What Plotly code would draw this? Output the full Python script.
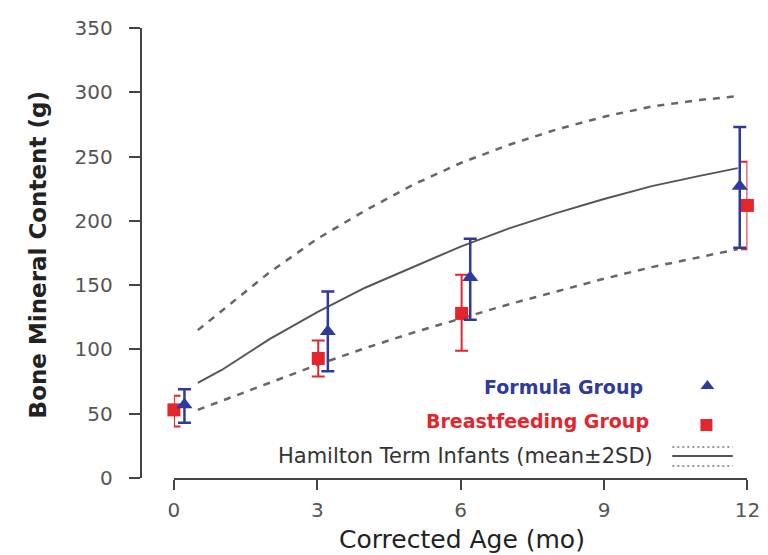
import plotly.graph_objects as go

# ---------------- data ----------------
x_ticks = [0, 3, 6, 9, 12]
y_ticks = [0, 50, 100, 150, 200, 250, 300, 350]

formula_age = [0.22, 3.22, 6.2, 11.84]
formula_mean = [57, 114, 156, 227]
formula_upper = [69, 145, 186, 273]
formula_lower = [43, 83, 123, 179]

breast_age = [0.0, 3.02, 6.02, 12.0]
breast_mean = [53, 93, 128, 212]
breast_upper = [64, 107, 158, 246]
breast_lower = [40, 79, 99, 178]

ham_age = [0.5, 1, 2, 3, 4, 5, 6, 7, 8, 9, 10, 11, 11.8]
ham_mean = [74, 84, 108, 129, 148, 164, 180, 194, 206, 217, 227, 235, 241]
ham_upper = [115, 130, 160, 186, 208, 228, 245, 259, 271, 281, 289, 294, 297]
ham_lower = [53, 60, 74, 88, 101, 113, 124, 135, 145, 155, 164, 172, 178]

BLUE = "#2e3a9c"
RED = "#e5252c"
GRAY = "#555555"
FONT = "DejaVu Sans"

W, H = 768, 555
TOP, BOT = 20, 470   # pixel rows of plot area
L_AX = 130           # pixel x of the y axis line


def px(xp):
    return xp / W


def py(yp):
    return (BOT - yp) / (BOT - TOP)


fig = go.Figure()

# Hamilton reference curves
for ys in (ham_upper, ham_lower):
    fig.add_trace(go.Scatter(x=ham_age, y=ys, mode="lines",
                             line=dict(color="#666666", width=2.5, dash="7px,7px"),
                             showlegend=False, hoverinfo="skip"))
fig.add_trace(go.Scatter(x=ham_age, y=ham_mean, mode="lines",
                         line=dict(color=GRAY, width=2),
                         showlegend=False, hoverinfo="skip"))

# Breastfeeding group
fig.add_trace(go.Scatter(
    x=breast_age, y=breast_mean, mode="markers",
    marker=dict(symbol="square", size=13, color=RED),
    error_y=dict(type="data", symmetric=False,
                 array=[u - m for u, m in zip(breast_upper, breast_mean)],
                 arrayminus=[m - l for m, l in zip(breast_mean, breast_lower)],
                 color=RED, thickness=2, width=6.5),
    cliponaxis=False, showlegend=False))

# Formula group
fig.add_trace(go.Scatter(
    x=formula_age, y=formula_mean, mode="markers",
    marker=dict(symbol="triangle-up", size=14, color=BLUE),
    error_y=dict(type="data", symmetric=False,
                 array=[u - m for u, m in zip(formula_upper, formula_mean)],
                 arrayminus=[m - l for m, l in zip(formula_mean, formula_lower)],
                 color=BLUE, thickness=2.5, width=6.5),
    cliponaxis=False, showlegend=False))

# legend samples on a pixel-space overlay subplot
fig.add_trace(go.Scatter(x=[711], y=[378], xaxis="x2", yaxis="y2", mode="markers",
                         marker=dict(symbol="triangle-up", size=12, color=BLUE),
                         showlegend=False, hoverinfo="skip"))
fig.add_trace(go.Scatter(x=[710], y=[417], xaxis="x2", yaxis="y2", mode="markers",
                         marker=dict(symbol="square", size=12, color=RED),
                         showlegend=False, hoverinfo="skip"))
fig.add_trace(go.Scatter(x=[675, 737], y=[448, 448], xaxis="x2", yaxis="y2", mode="lines",
                         line=dict(color=GRAY, width=2), showlegend=False, hoverinfo="skip"))
for yy in (439, 458):
    fig.add_trace(go.Scatter(x=[675, 737], y=[yy, yy], xaxis="x2", yaxis="y2", mode="lines",
                             line=dict(color="#999999", width=2, dash="2px,3px"),
                             showlegend=False, hoverinfo="skip"))

tick_font = dict(family=FONT, size=20, color="#555555")

fig.update_layout(
    width=W, height=H,
    margin=dict(l=0, r=0, t=TOP, b=H - BOT),
    paper_bgcolor="white", plot_bgcolor="rgba(0,0,0,0)",
    font=dict(family=FONT, color="#333333"),
    xaxis=dict(domain=[px(164), px(752)], range=[0, 12],
               tickmode="array", tickvals=x_ticks, ticktext=[str(v) for v in x_ticks],
               showline=True, linecolor="#444444", linewidth=2,
               ticks="outside", ticklen=10, tickwidth=2, tickcolor="#444444",
               ticklabelstandoff=3,
               showgrid=False, zeroline=False,
               tickfont=tick_font, anchor="y"),
    yaxis=dict(domain=[0, 1], range=[0, 350],
               tickmode="array", tickvals=y_ticks,
               showline=True, linecolor="#444444", linewidth=2,
               ticks="outside", ticklen=11, tickwidth=2, tickcolor="#444444",
               ticklabelstandoff=12,
               showgrid=False, zeroline=False,
               tickfont=tick_font, anchor="free", position=px(L_AX)),
    xaxis2=dict(domain=[0, 1], range=[0, W], visible=False, anchor="y2"),
    yaxis2=dict(domain=[0, 1], range=[BOT, TOP], visible=False, anchor="x2"),
    showlegend=False,
)

ann = [
    dict(text="Corrected Age (mo)", x=459, y=531, font=dict(size=25, color="#222222")),
    dict(text="<b>Bone Mineral Content (g)</b>", x=25, y=247, textangle=-90,
         font=dict(size=23, color="#222222")),
    dict(text="<b>Formula Group</b>", x=647, y=379, xanchor="right",
         font=dict(size=19, color=BLUE)),
    dict(text="<b>Breastfeeding Group</b>", x=653, y=413, xanchor="right",
         font=dict(size=19, color=RED)),
    dict(text="Hamilton Term Infants (mean±2SD)", x=657, y=448, xanchor="right",
         font=dict(size=21, color="#333333")),
]
for a in ann:
    a.setdefault("xanchor", "center")
    a["x"] = px(a["x"])
    a["y"] = py(a["y"])
    fig.add_annotation(xref="paper", yref="paper", showarrow=False, yanchor="middle", **a)

fig.write_html("out.html")
